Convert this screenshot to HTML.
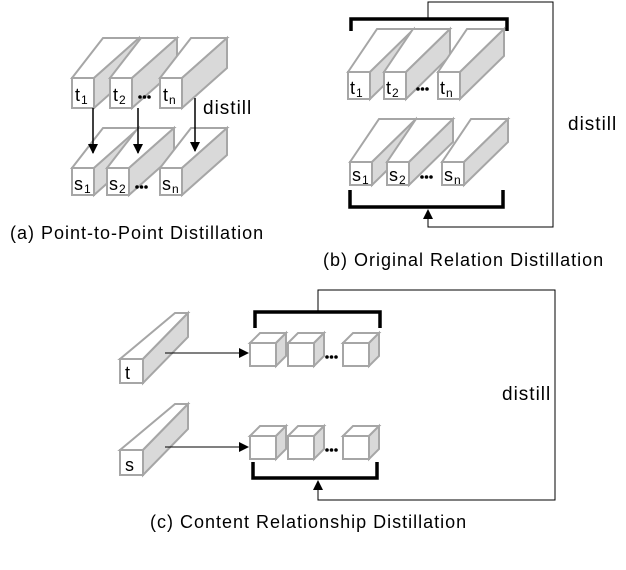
<!DOCTYPE html>
<html><head><style>
html,body{margin:0;padding:0;background:#fff;}
svg{display:block;font-family:"Liberation Sans","DejaVu Sans",sans-serif;}
text{letter-spacing:1px;}
.p{stroke:#a6a6a6;stroke-width:2;stroke-linejoin:miter;}
.f{fill:#fff;}.s{fill:#d9d9d9;}
</style></head><body>
<svg width="626" height="570" viewBox="0 0 626 570" xmlns="http://www.w3.org/2000/svg">
<defs>
<marker id="ah" markerWidth="10" markerHeight="10" refX="9" refY="5" orient="auto" markerUnits="userSpaceOnUse"><path d="M0,0 L10,5 L0,10 z" fill="#000"/></marker>
</defs>
<g id="all"></g>
<script>
var S='http://www.w3.org/2000/svg',g=document.getElementById('all');
function el(t,a,txt){var e=document.createElementNS(S,t);for(var k in a)e.setAttribute(k,a[k]);if(txt!==undefined)e.textContent=txt;g.appendChild(e);return e;}
function prism(x,y,w,h,dl,dr,dy){
 el('polygon',{'class':'p f',points:[x,y,x+dl,y-dy,x+w+dr,y-dy,x+w,y].join(' ')});
 el('polygon',{'class':'p s',points:[x+w,y,x+w+dr,y-dy,x+w+dr,y+h-dy,x+w,y+h].join(' ')});
 el('rect',{'class':'p f',x:x,y:y,width:w,height:h});
}
function lbl(x,y,m,sub){var t=el('text',{x:x,y:y,'font-size':18});var a=document.createElementNS(S,'tspan');a.textContent=m;t.appendChild(a);if(sub){var b=document.createElementNS(S,'tspan');b.setAttribute('font-size',12);b.setAttribute('dy',3);b.textContent=sub;t.appendChild(b);}}
function dots(x,y){for(var i=0;i<3;i++)el('circle',{cx:x+i*4.5,cy:y,r:1.8,fill:'#000'});}
// (a)
[[72,'t','1'],[110,'t','2'],[160,'t','n']].forEach(function(p){prism(p[0],78,22,30,31,45,40);lbl(p[0]+3,101,p[1],p[2]);});
[[72,'s','1'],[107,'s','2'],[160,'s','n']].forEach(function(p){prism(p[0],168,22,27,31,45,40);lbl(p[0]+2,190,p[1],p[2]);});
dots(140,97);dots(137,187);
[[93,108,153],[138,108,153],[195,98,151]].forEach(function(a){el('line',{x1:a[0],y1:a[1],x2:a[0],y2:a[2],stroke:'#000','stroke-width':1.5,'marker-end':'url(#ah)'});});
el('text',{x:203,y:114,'font-size':19},'distill');
el('text',{x:10,y:239,'font-size':18},'(a) Point-to-Point Distillation');
// (b)
[[348,'t','1'],[384,'t','2'],[438,'t','n']].forEach(function(p){prism(p[0],72,22,27,29,44,43);lbl(p[0]+2,94,p[1],p[2]);});
[[350,'s','1'],[387,'s','2'],[442,'s','n']].forEach(function(p){prism(p[0],162,22,23,29,44,43);lbl(p[0]+2,181,p[1],p[2]);});
dots(418,89);dots(422,177);
el('path',{d:'M351,31 L351,19 L507,19 L507,31',fill:'none',stroke:'#000','stroke-width':3.5});
el('path',{d:'M350,190 L350,207 L503,207 L503,190',fill:'none',stroke:'#000','stroke-width':3.5});
el('path',{d:'M428,19 L428,2 L553,2 L553,227 L428,227 L428,210',fill:'none',stroke:'#000','stroke-width':1,'marker-end':'url(#ah)'});
el('text',{x:568,y:130,'font-size':19},'distill');
el('text',{x:323,y:266,'font-size':18},'(b) Original Relation Distillation');
// (c)
prism(120,359,23,24,55,45,46);lbl(125,379,'t');
prism(120,450,23,25,55,45,46);lbl(125,471,'s');
el('line',{x1:165,y1:353,x2:248,y2:353,stroke:'#000','stroke-width':1,'marker-end':'url(#ah)'});
el('line',{x1:165,y1:447,x2:248,y2:447,stroke:'#000','stroke-width':1,'marker-end':'url(#ah)'});
[250,288,343].forEach(function(x){prism(x,343,26,23,10,10,10);prism(x,436,26,23,10,10,10);});
dots(327,357);dots(327,450);
el('path',{d:'M255,328 L255,312 L380,312 L380,328',fill:'none',stroke:'#000','stroke-width':3.5});
el('path',{d:'M253,462 L253,478 L377,478 L377,462',fill:'none',stroke:'#000','stroke-width':3.5});
el('path',{d:'M318,312 L318,290 L555,290 L555,500 L318,500 L318,481',fill:'none',stroke:'#000','stroke-width':1,'marker-end':'url(#ah)'});
el('text',{x:502,y:400,'font-size':19},'distill');
el('text',{x:150,y:528,'font-size':18},'(c) Content Relationship Distillation');
</script>
</svg>
</body></html>
